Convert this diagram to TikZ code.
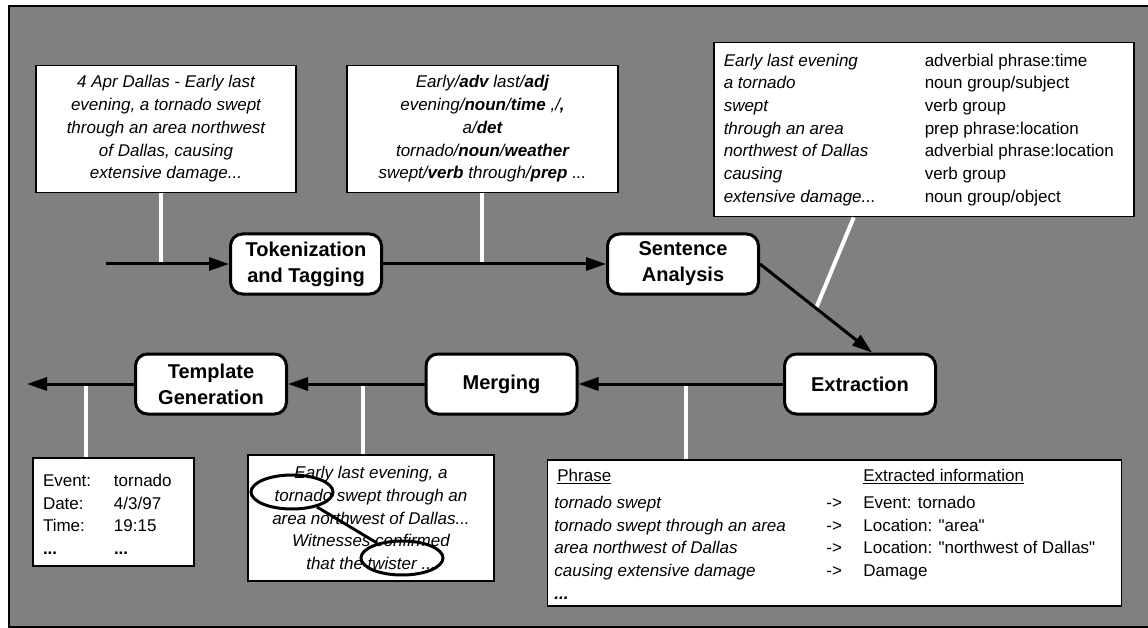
\documentclass[tikz,border=0pt]{standalone}
\usepackage{fontspec}
\setmainfont{Liberation Sans}
\usepackage{array}
\usetikzlibrary{arrows.meta,calc,shapes.geometric}
\definecolor{panel}{RGB}{128,128,128}
\newcommand{\notefont}{\fontsize{17}{22.7}\selectfont}

\begin{document}
\begin{tikzpicture}[x=1pt, y=-1pt, >={Triangle[length=20pt,width=13pt]},
    stage/.style={draw, fill=white, line width=3pt, rounded corners=12pt, minimum width=151pt,
      minimum height=60pt, align=center, inner sep=0pt, font=\bfseries\fontsize{20}{26}\selectfont},
    note/.style={draw, fill=white, line width=1.5pt, inner sep=0pt, font=\notefont},
    stem/.style={white, line width=4pt},
    flow/.style={->, line width=3pt},
    ring/.style={draw, ellipse, line width=3pt, minimum width=82pt, minimum height=34pt, inner sep=0pt}]
    \useasboundingbox (0,0) rectangle (1148,628);
    \draw[fill=panel, line width=2.5pt] (9,6) rectangle (1170,627);

    % text boxes
    \node[note, minimum width=260pt, minimum height=127pt, align=center, font=\notefont\itshape] (src) at (166,129)
        {4 Apr Dallas - Early last\\evening, a tornado swept\\through an area northwest\\of Dallas, causing\\extensive damage...};
    \node[note, minimum width=271pt, minimum height=127pt, align=center, font=\notefont\itshape] (tags) at (482.5,129)
        {Early/\textbf{adv} last/\textbf{adj}\\evening/\textbf{noun}/\textbf{time} ,/\textbf{,}\\a/\textbf{det}\\
         tornado/\textbf{noun}/\textbf{weather}\\swept/\textbf{verb} through/\textbf{prep} ...};
    \node[note, anchor=north west, inner xsep=10pt, inner ysep=7.5pt] (an) at (713,42) {%
        \begin{tabular}{@{}>{\itshape}p{201pt}@{}p{199pt}@{}}
        Early last evening & adverbial phrase:time\\
        a tornado & noun group/subject\\
        swept & verb group\\
        through an area & prep phrase:location\\
        northwest of Dallas & adverbial phrase:location\\
        causing & verb group\\
        extensive damage... & noun group/object
        \end{tabular}};
    \node[note, minimum width=161pt, minimum height=108pt, inner xsep=10pt] (slots) at (113.5,512) {%
        \begin{tabular}{@{}p{71pt}@{}p{70pt}@{}}
        \rule{0pt}{24pt}Event: & tornado\\
        Date: & 4/3/97\\
        Time: & 19:15\\
        \textbf{...} & \textbf{...}
        \end{tabular}};
    \node[note, minimum width=246pt, minimum height=126pt, align=center, font=\notefont\itshape] (coref) at (371,518)
        {Early last evening, a\\tornado swept through an\\area northwest of Dallas...\\Witnesses confirmed\\that the twister ...};
    \node[note, anchor=north west, minimum height=145pt, inner xsep=7pt] (facts) at (546.6,459) {%
        \begin{tabular}{@{}>{\itshape}p{272pt}@{}p{37pt}@{}p{251pt}@{}}
        \upshape\rule{0pt}{22pt}\hspace{3pt}\underline{Phrase} & & \underline{Extracted information}\\[4pt]
        tornado swept & -> & Event: tornado\\
        tornado swept through an area & -> & Location: \textquotedbl area\textquotedbl\\
        area northwest of Dallas & -> & Location: \textquotedbl northwest of Dallas\textquotedbl\\
        causing extensive damage & -> & Damage\\
        \textbf{...} & &
        \end{tabular}};

    % stages
    \node[stage] (tok) at (306,264) {Tokenization\\and Tagging};
    \node[stage] (sa) at (683,264) {Sentence\\Analysis};
    \node[stage] (ex) at (860,384) {Extraction};
    \node[stage] (mg) at (501.5,384) {Merging};
    \node[stage] (tg) at (211,384) {Template\\Generation};

    \coordinate (in) at (106,264);
    \coordinate (out) at (27,384);
    \coordinate (exin) at ([xshift=12pt]ex.north);
    \coordinate (p1) at (161,264);
    \coordinate (p2) at (482,264);
    \coordinate (p3) at ($(sa.east)!0.5!(exin)$);
    \coordinate (p4) at (86,384);
    \coordinate (p5) at (363,384);
    \coordinate (p6) at (686,384);

    \draw[stem] (src.south -| p1) -- (p1);
    \draw[stem] (tags.south -| p2) -- (p2);
    \draw[stem] ([xshift=-70pt]an.south) -- (p3);
    \draw[stem] (slots.north -| p4) -- (p4);
    \draw[stem] (coref.north -| p5) -- (p5);
    \draw[stem] (facts.north -| p6) -- (p6);

    \draw[flow] (in) -- (tok);
    \draw[flow] (tok) -- (sa);
    \draw[flow] (sa.east) -- (exin);
    \draw[flow] (ex) -- (mg);
    \draw[flow] (mg) -- (tg);
    \draw[flow] (tg) -- (out);

    % coreference marks
    \node[ring] (e1) at (292,492) {};
    \node[ring] (e2) at (402,558) {};
    \draw[line width=3pt] (e1) -- (e2);
\end{tikzpicture}
\end{document}
